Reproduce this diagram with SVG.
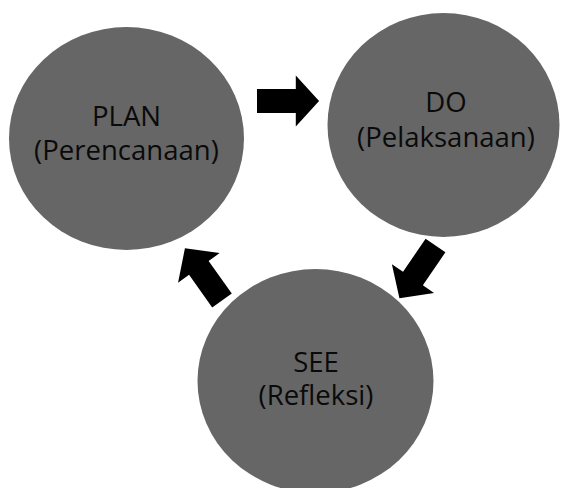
<svg xmlns="http://www.w3.org/2000/svg" width="561" height="488" viewBox="0 0 561 488">
  <style>
    .node { fill: #666666; }
    .label { font-family: "Open Sans", "DejaVu Sans", sans-serif; font-size: 27px; fill: #0a0a0a; text-anchor: middle; }
    .arrow { fill: #000000; }
  </style>
  <defs>
    <polygon id="blockArrow" points="0,-12 40,-12 40,-25.5 64,0 40,25.5 40,12 0,12"/>
  </defs>
  <rect width="561" height="488" fill="#ffffff"/>
  <g id="plan">
    <ellipse class="node" cx="126.5" cy="138.5" rx="117.5" ry="111.5"/>
    <text class="label" x="126.5" y="126" transform="translate(126.5 0) scale(1.02 1) translate(-126.5 0)">PLAN</text>
    <text class="label" x="126.5" y="160" transform="translate(126.5 0) scale(1.02 1) translate(-126.5 0)">(Perencanaan)</text>
  </g>
  <g id="do">
    <ellipse class="node" cx="443.5" cy="125" rx="116" ry="112"/>
    <text class="label" x="446" y="112" transform="translate(446 0) scale(1.02 1) translate(-446 0)">DO</text>
    <text class="label" x="446" y="147" transform="translate(446 0) scale(1.02 1) translate(-446 0)">(Pelaksanaan)</text>
  </g>
  <g id="see">
    <ellipse class="node" cx="315.5" cy="381" rx="118" ry="112"/>
    <text class="label" x="316" y="372" transform="translate(316 0) scale(1.02 1) translate(-316 0)">SEE</text>
    <text class="label" x="316" y="405" transform="translate(316 0) scale(1.02 1) translate(-316 0)">(Refleksi)</text>
  </g>
  <g id="connectors">
    <use href="#blockArrow" class="arrow" transform="translate(257 101) scale(0.97 1)"/>
    <use href="#blockArrow" class="arrow" transform="translate(435.5 245.5) rotate(124.3)"/>
    <use href="#blockArrow" class="arrow" transform="translate(222 300.5) rotate(234.6)"/>
  </g>
</svg>
